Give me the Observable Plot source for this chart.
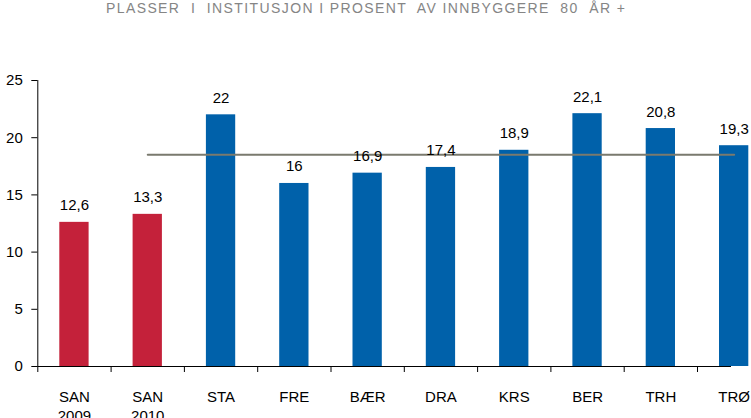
<!DOCTYPE html>
<html>
<head>
<meta charset="utf-8">
<script src="https://cdn.jsdelivr.net/npm/d3@7"></script>
<script src="https://cdn.jsdelivr.net/npm/@observablehq/plot@0.6"></script>
<style>
  html, body { margin: 0; padding: 0; background: #fff; overflow: hidden; width: 751px; height: 418px; }
  #title { height: 26px; line-height: 16px; font-family: "Liberation Sans", Arial, sans-serif; font-size: 14px; color: #858585; white-space: pre; padding-left: 106px; }
  #chart svg { display: block; }
</style>
</head>
<body>
<div id="title"><span id="titletext">PLASSER  I  INSTITUSJON I PROSENT  AV INNBYGGERE  80  ÅR +</span></div>
<div id="chart"></div>
<script>
const categories = ["SAN\n2009", "SAN\n2010", "STA", "FRE", "BÆR", "DRA", "KRS", "BER", "TRH", "TRØ"];
const values = [12.6, 13.3, 22, 16, 16.9, 17.4, 18.9, 22.1, 20.8, 19.3];
const groups = ["own", "own", "other", "other", "other", "other", "other", "other", "other", "other"];
const averageValue = 18.5;
const averageFrom = "SAN\n2010";
const averageTo = "TRØ";
const yTicks = [0, 5, 10, 15, 20, 25];

const colors = { own: "#C4213A", other: "#0061AA" };
const data = categories.map((c, i) => ({ cat: c, i, value: values[i], group: groups[i] }));
const iFrom = categories.indexOf(averageFrom), iTo = categories.indexOf(averageTo);
const avgData = data.filter(d => d.i >= iFrom && d.i <= iTo).map(d => ({ i: d.i, value: averageValue }));
const fmt = v => String(v).replace(".", ",");
const font = "'Liberation Sans', Arial, sans-serif";

// spread the title letters to the reference's width
const tt = document.getElementById("titletext");
const w = tt.getBoundingClientRect().width;
const nChars = tt.textContent.length - 1;
tt.style.letterSpacing = ((519 - w) / nChars) + "px";

const chart = Plot.plot({
  width: 751,
  height: 392,
  marginTop: 54,
  marginBottom: 52,
  marginLeft: 37.3,
  style: { fontFamily: font, fontSize: "15px", color: "#000", background: "#fff" },
  x: { domain: [0, categories.length], range: [37.3, 37.3 + 73.3 * categories.length], axis: null },
  y: { domain: [0, 25], axis: null },
  marks: [
    Plot.rectY(data, { x1: d => d.i, x2: d => d.i + 1, y: "value", fill: d => colors[d.group], insetLeft: 22, insetRight: 22 }),
    Plot.lineY(avgData, { x: d => d.i + 0.5, y: "value", stroke: "#7A7A6E", strokeWidth: 2 }),
    Plot.text(data, { x: d => d.i + 0.5, y: "value", text: d => fmt(d.value), lineAnchor: "bottom", dy: -12, fill: "#000", fontSize: 15 }),
    Plot.axisY({ ticks: yTicks, tickSize: 6, tickPadding: 9, tickFormat: d => String(d), fontSize: 15, stroke: "#000", label: null }),
    Plot.axisX({ ticks: d3.range(categories.length + 1), tickSize: 6, tickFormat: () => "", stroke: "#000", label: null }),
    Plot.axisX({ ticks: data.map(d => d.i + 0.5), tickSize: 0, tickPadding: 22, tickFormat: (t) => categories[Math.floor(t)], lineHeight: 1.27, fontSize: 15, label: null }),
    Plot.ruleX([0], { stroke: "#000" }),
    Plot.ruleY([0], { stroke: "#000" })
  ]
});
document.getElementById("chart").appendChild(chart);
</script>
</body>
</html>
